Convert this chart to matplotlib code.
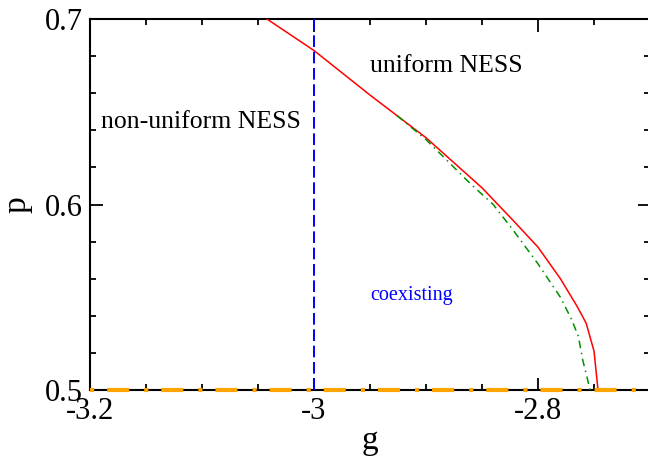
import matplotlib
matplotlib.use("Agg")
import matplotlib.pyplot as plt
from matplotlib.ticker import MultipleLocator, FixedLocator

plt.rcParams['font.family'] = ['Liberation Serif', 'DejaVu Serif']

# upper boundary of the coexistence region (red)
g_red = [-3.042, -3.0, -2.95, -2.9, -2.85, -2.82, -2.8, -2.78, -2.765, -2.757, -2.75, -2.7464]
p_red = [0.700, 0.683, 0.659, 0.636, 0.609, 0.590, 0.577, 0.560, 0.545, 0.536, 0.521, 0.500]

# second boundary (green dash-dot)
g_green = [-2.926, -2.9, -2.88, -2.86, -2.84, -2.822, -2.80, -2.78, -2.77, -2.764, -2.76, -2.7555, -2.7536]
p_green = [0.648, 0.635, 0.623, 0.611, 0.600, 0.586, 0.568, 0.550, 0.538, 0.529, 0.516, 0.505, 0.500]

g_vert = -3.0
p_base = 0.5
xticks = [-3.2, -3.0, -2.8]
xlabels = ['-3.2', '-3', '-2.8']
yticks = [0.5, 0.6, 0.7]
ylabels = ['0.5', '0.6', '0.7']

fig = plt.figure(figsize=(6.48, 4.59), dpi=100)
ax = fig.add_axes([90 / 648, 69 / 459, 560 / 648, 371 / 459])

ax.plot(g_red, p_red, color='red', lw=1.1, zorder=4)
ax.plot(g_green, p_green, color='#009000', lw=1.1, dashes=[5, 3, 1, 3], zorder=4)
ax.axvline(g_vert, color='blue', lw=1.4, dashes=[6, 2.4], zorder=4)
ax.axhline(p_base, color='orange', lw=3, dashes=[1, 3.1, 5.3, 3.6],
           solid_capstyle='butt', dash_capstyle='butt', clip_on=False, zorder=5)

ax.set_xlim(-3.2, -2.7)
ax.set_ylim(0.5, 0.7)

ax.xaxis.set_major_locator(FixedLocator(xticks))
ax.set_xticklabels(xlabels)
ax.yaxis.set_major_locator(FixedLocator(yticks))
ax.set_yticklabels(ylabels)
ax.xaxis.set_minor_locator(MultipleLocator(0.05))
ax.yaxis.set_minor_locator(MultipleLocator(0.02))
ax.tick_params(which='both', direction='in', top=True, right=True, width=1.3, labelsize=22)
ax.tick_params(which='major', length=9, pad=5)
ax.tick_params(which='minor', length=4.5)
for s in ax.spines.values():
    s.set_linewidth(1.5)

ax.set_xlabel('g', fontsize=24, labelpad=0)
ax.set_ylabel('p', fontsize=24, labelpad=9)

ax.text(-3.19, 0.6445, 'non-uniform NESS', fontsize=18.5, va='center', ha='left')
ax.text(-2.95, 0.6747, 'uniform NESS', fontsize=18.5, va='center', ha='left')
ax.text(-2.95, 0.5512, 'coexisting', fontsize=14.5, va='center', ha='left', color='blue')

fig.savefig('out.png', dpi=100)
